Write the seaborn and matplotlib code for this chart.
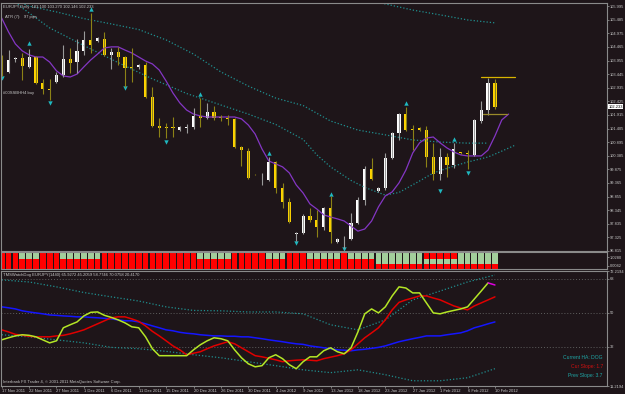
import matplotlib
matplotlib.use("Agg")
import matplotlib.pyplot as plt
import seaborn as sns
import pandas as pd
import numpy as np

# ---------------- texts ----------------
symbol_header = "EURJPY,Daily  103.100 103.270 102.146 102.233"
atr_text = "ATR (7):   97 pips"
signal_text = "#00SSBHH4 buy"
osc_header = "TMSWatchDog EURJPY(1440) 65.9272 45.2059 58.7746 70.0758 20.4170"
footer_text = "Interbank FX Trader 4, \u00a9 2001-2011 MetaQuotes Software Corp."
status_lines = ["Current HA: DOG", "Cur Slope: 1.7", "Prev Slope: 3.7"]

date_labels = ["17 Nov 2011", "22 Nov 2011", "27 Nov 2011", "1 Dec 2011", "6 Dec 2011",
               "11 Dec 2011", "15 Dec 2011", "20 Dec 2011", "26 Dec 2011", "30 Dec 2011",
               "4 Jan 2012", "9 Jan 2012", "13 Jan 2012", "18 Jan 2012", "23 Jan 2012",
               "27 Jan 2012", "1 Feb 2012", "6 Feb 2012", "10 Feb 2012"]
date_idx = [0, 4, 8, 12, 16, 20, 24, 28, 32, 36, 40, 44, 48, 52, 56, 60, 64, 68, 72]

price_ticks = [96.815, 97.325, 97.835, 98.345, 98.855, 99.365, 99.875, 100.385, 100.895,
               101.405, 101.915, 102.425, 102.935, 103.445, 103.955, 104.465, 104.975,
               105.485, 105.995]

# ---------------- candles ----------------
bar_open = [103.60, 103.53, 104.02, 104.05, 103.72, 104.09, 103.11, 102.89, 103.15, 103.42,
            104.02, 103.90, 104.32, 104.73, 104.69, 104.77, 104.17, 104.28, 104.09, 103.70,
            103.72, 103.79, 102.59, 101.50, 101.45, 101.43, 101.35, 101.43, 101.47, 101.88,
            101.80, 102.03, 101.82, 101.78, 101.77, 100.72, 100.58, 99.70, 99.50, 99.48,
            100.15, 99.18, 98.65, 97.45, 97.49, 98.13, 97.98, 97.72, 98.43, 97.15,
            97.29, 97.27, 97.87, 98.73, 99.89, 99.06, 99.18, 100.30, 101.24, 101.95,
            101.37, 101.43, 101.35, 100.34, 99.70, 100.34, 100.04, 100.50, 100.47, 100.42,
            101.69, 102.10, 103.10]
bar_high = [104.17, 104.34, 104.09, 104.24, 104.39, 104.13, 103.27, 103.27, 103.53, 104.54,
            104.43, 104.77, 105.07, 105.74, 104.84, 105.03, 104.43, 104.47, 104.13, 104.43,
            103.83, 103.90, 102.97, 101.80, 101.62, 101.84, 101.50, 101.58, 102.18, 102.55,
            102.37, 102.25, 101.92, 101.92, 101.80, 100.75, 100.68, 99.72, 99.74, 100.34,
            100.19, 99.37, 98.80, 97.53, 98.20, 98.43, 98.35, 98.47, 98.88, 97.29,
            97.38, 98.24, 98.84, 100.00, 100.30, 99.22, 100.49, 101.28, 101.99, 102.22,
            101.54, 101.47, 101.50, 100.87, 100.68, 100.49, 100.87, 100.53, 100.60, 101.77,
            102.44, 103.30, 103.27]
bar_low = [103.38, 103.49, 103.90, 103.23, 103.68, 103.08, 102.70, 102.48, 103.11, 103.34,
           103.49, 103.49, 104.17, 104.24, 104.65, 104.13, 103.64, 103.79, 102.97, 103.15,
           103.64, 102.55, 101.46, 101.09, 101.05, 101.09, 101.32, 101.24, 101.39, 101.47,
           101.77, 101.73, 101.69, 101.54, 100.68, 100.00, 99.52, 99.67, 99.29, 99.44,
           98.99, 98.43, 97.87, 97.19, 97.45, 97.90, 97.34, 97.60, 97.11, 97.13,
           96.93, 97.23, 97.83, 98.54, 99.48, 99.03, 99.10, 100.26, 100.98, 101.32,
           100.60, 101.32, 99.97, 99.48, 99.48, 99.59, 99.93, 100.45, 99.89, 100.38,
           101.62, 101.92, 102.146]
bar_close = [103.53, 103.98, 104.05, 103.75, 104.09, 103.11, 102.89, 102.87, 103.42, 104.02,
             103.87, 104.32, 104.73, 104.54, 104.80, 104.17, 104.28, 104.09, 103.68, 103.68,
             103.79, 102.59, 101.50, 101.43, 101.43, 101.42, 101.47, 101.48, 101.88, 101.80,
             102.03, 101.80, 101.80, 101.77, 100.72, 100.60, 99.55, 99.69, 99.52, 100.15,
             99.18, 98.65, 97.90, 97.49, 98.13, 97.98, 97.72, 98.43, 97.53, 97.27,
             97.30, 97.87, 98.73, 99.89, 99.52, 99.18, 100.30, 101.24, 101.95, 101.35,
             101.35, 101.35, 100.34, 99.70, 100.34, 100.04, 100.64, 100.48, 100.45, 101.73,
             102.10, 103.12, 102.233]

# fractal arrows
up_idx = [4, 13, 29, 39, 48, 59, 66]
up_price = [104.615, 105.89, 102.70, 100.49, 98.95, 102.365, 101.015]
dn_idx = [0, 7, 18, 24, 43, 50, 64, 68]
dn_price = [103.30, 102.365, 102.93, 100.90, 97.11, 96.89, 99.06, 99.74]

# moving average (displaced, runs 2 bars beyond last candle)
ma_price = [105.55, 105.03, 104.58, 104.32, 104.17, 104.09, 104.09, 103.90, 103.57, 103.38,
            103.34, 103.45, 103.72, 103.98, 104.20, 104.43, 104.47, 104.47, 104.35, 104.24,
            104.09, 103.94, 103.83, 103.60, 103.19, 102.74, 102.37, 102.10, 101.95, 101.88,
            101.84, 101.84, 101.84, 101.84, 101.84, 101.77, 101.54, 101.20, 100.64, 100.19,
            100.08, 99.97, 99.74, 99.29, 98.99, 98.58, 98.39, 98.17, 98.09, 98.02,
            97.94, 97.75, 97.56, 97.64, 97.94, 98.47, 98.88, 99.03, 99.37, 99.85,
            100.49, 100.87, 101.05, 101.09, 100.87, 100.68, 100.53, 100.42, 100.38, 100.38,
            100.38, 100.60, 101.13, 101.73, 101.95]

# dotted envelope lines on the price chart
env_u_idx = [53, 56, 60, 64, 68, 72]
env_u = [106.27, 106.08, 105.85, 105.67, 105.48, 105.37]
env_m_idx = [2, 4, 8, 12, 16, 20, 24, 28, 32, 36, 40, 44, 48, 52, 56, 60, 64, 68, 71]
env_m = [106.20, 106.00, 105.78, 105.53, 105.33, 105.12, 104.73, 104.20, 103.53, 103.00,
         102.55, 102.27, 101.69, 101.35, 101.17, 100.98, 100.90, 100.86, 100.86]
env_l_idx = [2, 3, 7, 12, 17, 22, 27, 32, 36, 40, 44, 46, 48, 51, 53, 56, 58, 61, 63, 66,
             68, 71, 73, 75]
env_l = [106.15, 105.93, 105.18, 104.52, 103.88, 103.27, 102.72, 102.29, 101.95, 101.56,
         101.00, 100.42, 99.97, 99.46, 99.20, 98.91, 99.01, 99.44, 99.74, 100.00,
         100.15, 100.34, 100.56, 100.79]

# range markers at the last bars
range_hi_idx = [70, 75]
range_hi = [103.34, 103.34]
range_lo_idx = [70.3, 73.8]
range_lo = [101.95, 101.95]

# ---------------- Heiken Ashi strip ----------------
ha_top = ("rrr" + "ggg" + "rrr" + "gggggg" + "rrrrrrrrrrrrrr" + "ggggg" + "rrrrr" + "ggg"
          + "rrr" + "ggggg" + "r" + "ggggggggggg" + "rrrrr" + "gggggg")
ha_mid = "r" * 55 + "g" * 18
ha_bot = "r" * 73
ha_labels = ["1.0280", "0.0042"]

# ---------------- oscillator ----------------
osc_blue = [53.2, 52.7, 52.1, 51.1, 50.5, 50.0, 49.5, 48.9, 48.7, 48.4, 48.2, 47.9, 47.9, 47.6,
            47.4, 47.1, 46.8, 46.3, 45.8, 45.8, 45.2, 44.2, 43.1, 42.1, 41.0, 40.5, 39.7, 39.2,
            38.9, 38.4, 38.1, 37.8, 37.8, 37.6, 37.6, 37.3, 37.3, 36.8, 36.3, 35.7, 35.2, 34.7,
            34.1, 33.6, 33.3, 32.5, 32.0, 31.5, 31.0, 30.4, 30.2, 29.9, 30.4, 30.7, 31.2, 31.7,
            32.5, 33.6, 34.7, 35.5, 36.3, 37.0, 37.8, 37.8, 37.8, 38.4, 38.9, 39.4, 40.5, 42.1,
            43.1, 44.2, 45.2]
osc_red = [41.0, 39.9, 38.6, 38.1, 37.6, 37.3, 37.3, 37.3, 37.8, 38.1, 38.9, 39.9, 41.0, 42.6,
           44.2, 45.8, 47.4, 47.9, 47.9, 46.8, 45.5, 43.1, 40.2, 37.8, 35.2, 32.5, 30.4, 27.8,
           28.6, 29.4, 31.0, 32.5, 33.6, 34.7, 33.6, 31.5, 29.4, 27.3, 26.7, 25.9, 25.1, 24.1,
           24.6, 24.9, 25.1, 24.9, 24.6, 25.7, 26.5, 27.3, 28.3, 30.4, 33.6, 36.8, 39.4, 42.1,
           46.3, 51.6, 55.6, 56.9, 57.9, 59.0, 59.0, 57.9, 56.9, 55.3, 53.7, 52.6, 51.6, 53.7,
           55.3, 56.9, 58.5]
osc_green = [35.7, 36.8, 37.8, 38.4, 38.1, 37.3, 35.7, 34.1, 35.2, 42.1, 43.7, 45.2, 48.4, 50.3,
             50.5, 48.7, 47.6, 46.3, 44.7, 42.6, 42.1, 37.3, 31.0, 27.3, 27.3, 27.3, 27.3, 27.3,
             30.4, 33.1, 35.2, 36.8, 36.3, 35.2, 30.4, 26.2, 23.0, 21.4, 22.0, 26.2, 27.8, 25.7,
             22.5, 20.4, 24.1, 26.7, 26.7, 29.9, 31.5, 29.4, 28.3, 31.5, 39.9, 49.5, 52.1, 50.0,
             53.2, 59.0, 63.8, 63.2, 60.6, 60.6, 55.3, 50.0, 49.5, 50.5, 51.3, 52.1, 53.2, 57.4,
             61.6, 65.9]
osc_tail_idx = [71, 72]
osc_tail = [65.9, 64.8]
band_idx = [0, 4, 8, 12, 16, 20, 24, 28, 32, 36, 40, 44, 48, 52, 56, 60, 64, 68, 72]
osc_band_up = [67.5, 66.4, 63.8, 60.8, 58.5, 56.3, 53.2, 51.3, 51.1, 50.5, 50.5, 49.5, 43.7,
               41.0, 46.3, 56.9, 61.6, 66.4, 70.1]
osc_band_dn = [38.4, 37.3, 35.7, 34.1, 31.7, 31.0, 29.6, 27.8, 26.2, 24.1, 22.0, 19.8, 18.3,
               19.8, 17.2, 14.0, 14.0, 15.6, 20.4]
osc_levels = [68, 50, 32]
osc_min, osc_max = 11.2194, 72.2194

# ---------------- style ----------------
BG = "#1e1519"
SPINE = "#8a8a8a"
TXT = "#c8c8c8"
TEAL = "#1f8f8f"
ARROW = "#1fb8c0"
FS = 3.0      # MetaTrader's tiny interface font
FS_AX = 2.9

sns.set_theme(style="dark")
plt.rcParams["font.family"] = ["Liberation Sans", "DejaVu Sans"]
plt.rcParams["axes.facecolor"] = BG
plt.rcParams["figure.facecolor"] = BG

W, H = 625, 394
fig = plt.figure(figsize=(W / 100, H / 100), dpi=100, facecolor=BG)


def add_ax(x0, y0, x1, y1):
    ax = fig.add_axes([x0 / W, 1 - y1 / H, (x1 - x0) / W, (y1 - y0) / H])
    ax.set_facecolor(BG)
    for s in ax.spines.values():
        s.set_color(SPINE)
        s.set_linewidth(0.8)
    ax.grid(False)
    ax.yaxis.tick_right()
    ax.tick_params(axis="y", colors=SPINE, labelcolor=TXT, labelsize=FS_AX, length=1.5,
                   width=0.6, pad=0.6, direction="out", right=True, left=False)
    ax.tick_params(axis="x", bottom=False, labelbottom=False)
    return ax


XL = (-0.1, 88.36)

# ===== main price panel =====
ax = add_ax(1, 3, 607, 251)
df = pd.DataFrame({"i": range(len(bar_open)), "o": bar_open, "h": bar_high,
                   "l": bar_low, "c": bar_close})
df["bull"] = df["c"] > df["o"]
df["lo"] = df[["o", "c"]].min(axis=1)
df["body"] = (df[["o", "c"]].max(axis=1) - df["lo"]).clip(lower=0.03)

for xs, ys in [(env_u_idx, env_u), (env_m_idx, env_m), (env_l_idx, env_l)]:
    sns.lineplot(x=xs, y=ys, ax=ax, color=TEAL, linewidth=0.9, linestyle=(0, (1, 1.6)),
                 sort=False)

sns.lineplot(x=list(range(len(ma_price))), y=ma_price, ax=ax, color="#8436c4",
             linewidth=0.9)

ax.vlines(df["i"], df["l"], df["h"],
          colors=np.where(df["bull"], "#9a9a9a", "#8c8216"), linewidth=0.8)
ax.bar(df["i"], df["body"], bottom=df["lo"], width=0.46,
       color=np.where(df["bull"], "#ffffff", "#ffd400"), linewidth=0)

sns.lineplot(x=range_hi_idx, y=range_hi, ax=ax, color="#d8b400", linewidth=0.9)
sns.lineplot(x=range_lo_idx, y=range_lo, ax=ax, color="#9a8a2a", linewidth=0.9)

sns.scatterplot(x=up_idx, y=up_price, ax=ax, marker="^", s=10, color=ARROW, linewidth=0)
sns.scatterplot(x=dn_idx, y=dn_price, ax=ax, marker="v", s=10, color=ARROW, linewidth=0)

ax.set_xlim(*XL)
ax.set_ylim(96.815, 106.115)
ax.set_yticks(price_ticks)
ax.set_yticklabels([f"{v:.3f}" for v in price_ticks])
ax.set_xlabel("")
ax.set_ylabel("")

last = bar_close[-1]
ax.text(1.002, last, f"{last:.3f}", transform=ax.get_yaxis_transform(), fontsize=FS_AX,
        color="#000000", va="center", ha="left",
        bbox=dict(boxstyle="square,pad=0.12", fc="#ffffff", ec="none"))

ax.text(0.004, 0.99, symbol_header, transform=ax.transAxes, fontsize=FS, color=TXT,
        va="top", ha="left")
ax.text(0.007, 0.95, atr_text, transform=ax.transAxes, fontsize=FS, color=TXT,
        va="top", ha="left")
ax.text(0.004, 0.645, signal_text, transform=ax.transAxes, fontsize=FS, color=TXT,
        va="top", ha="left")

# ===== Heiken Ashi strip =====
axh = add_ax(1, 252, 607, 269)
cmap = {"r": "#ff0000", "g": "#a3cf9c"}
ha_df = pd.DataFrame({"i": range(len(ha_top)), "top": list(ha_top),
                      "mid": list(ha_mid), "bot": list(ha_bot)})
for col, b0, hgt in [("bot", 0.0, 0.3), ("mid", 0.3, 0.3), ("top", 0.6, 0.4)]:
    axh.bar(ha_df["i"], hgt, bottom=b0, width=0.84,
            color=[cmap[v] for v in ha_df[col]], linewidth=0)
axh.set_xlim(*XL)
axh.set_ylim(0, 1)
axh.set_yticks([0.7, 0.2])
axh.set_yticklabels(ha_labels)

# ===== oscillator =====
axo = add_ax(1, 271, 607, 386)
for lv in osc_levels:
    axo.axhline(lv, color="#5e5e5e", linewidth=0.7, linestyle=(0, (1, 2)))
sns.lineplot(x=band_idx, y=osc_band_up, ax=axo, color=TEAL, linewidth=0.9,
             linestyle=(0, (1, 1.6)))
sns.lineplot(x=band_idx, y=osc_band_dn, ax=axo, color=TEAL, linewidth=0.9,
             linestyle=(0, (1, 1.6)))
sns.lineplot(x=list(range(len(osc_blue))), y=osc_blue, ax=axo, color="#1515ff",
             linewidth=1.1)
sns.lineplot(x=list(range(len(osc_red))), y=osc_red, ax=axo, color="#e00000",
             linewidth=1.1)
sns.lineplot(x=list(range(len(osc_green))), y=osc_green, ax=axo, color="#b4e626",
             linewidth=1.1)
sns.lineplot(x=osc_tail_idx, y=osc_tail, ax=axo, color="#e000e0", linewidth=1.1)

axo.set_xlim(*XL)
axo.set_ylim(osc_min, osc_max)
oticks = [osc_min] + sorted(osc_levels) + [osc_max]
axo.set_yticks(oticks)
axo.set_yticklabels([f"{v:g}" for v in oticks])
axo.set_xticks(date_idx)
axo.set_xticklabels(date_labels)
axo.tick_params(axis="x", bottom=True, labelbottom=True, colors=SPINE, labelcolor=TXT,
                labelsize=FS, length=1.5, width=0.6, pad=0.8, direction="out")
for lab in axo.get_xticklabels():
    lab.set_ha("left")
axo.set_xlabel("")
axo.set_ylabel("")

axo.text(0.004, 0.985, osc_header, transform=axo.transAxes, fontsize=FS, color=TXT,
         va="top", ha="left")
axo.text(0.004, 0.015, footer_text, transform=axo.transAxes, fontsize=FS, color=TXT,
         va="bottom", ha="left")
for k, (t, c) in enumerate(zip(status_lines, ["#1fa8a8", "#d01010", "#1fa8a8"])):
    axo.text(0.993, 0.245 - k * 0.075, t, transform=axo.transAxes, fontsize=3.6, color=c,
             va="center", ha="right")

fig.savefig("out.png", dpi=100, facecolor=BG)
